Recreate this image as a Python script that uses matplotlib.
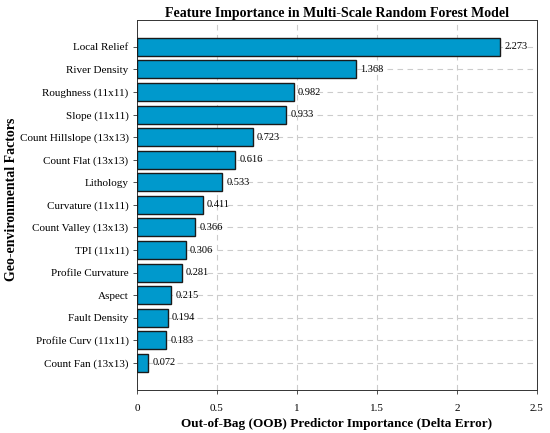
import matplotlib
matplotlib.use("Agg")
import matplotlib.pyplot as plt

features = ["Local Relief", "River Density", "Roughness (11x11)", "Slope (11x11)",
            "Count Hillslope (13x13)", "Count Flat (13x13)", "Lithology",
            "Curvature (11x11)", "Count Valley (13x13)", "TPI (11x11)",
            "Profile Curvature", "Aspect", "Fault Density", "Profile Curv (11x11)",
            "Count Fan (13x13)"]
importance = [2.273, 1.368, 0.982, 0.933, 0.723, 0.616, 0.533, 0.411, 0.366,
              0.306, 0.281, 0.215, 0.194, 0.183, 0.072]
xticks = [0, 0.5, 1, 1.5, 2, 2.5]
xtick_labels = ["0", "0.5", "1", "1.5", "2", "2.5"]

plt.rcParams['font.family'] = ['Liberation Serif', 'DejaVu Serif']

fig = plt.figure(figsize=(5.5, 4.33), dpi=100)
ax = fig.add_axes([0.249, 0.0993, 0.727, 0.855])

n = len(features)
ypos = list(range(n, 0, -1))
ax.barh(ypos, importance, height=0.8, color="#0099CC", edgecolor="#1a1a1a",
        linewidth=1.0, zorder=3)
for y, v in zip(ypos, importance):
    ax.text(v + 0.025, y, f"{v:.3f}", va="center", ha="left", fontsize=7.5, zorder=4)

ax.set_yticks(ypos)
ax.set_yticklabels(features, fontsize=8)
ax.set_xticks(xticks)
ax.set_xticklabels(xtick_labels, fontsize=8)
ax.set_xlim(0, 2.5)
ax.set_ylim(-0.2, n + 1.2)
ax.grid(True, linestyle=(0, (5, 4)), color="#cccccc", linewidth=0.8, zorder=0)
ax.tick_params(direction="out", length=3, width=0.6, color="#333333", pad=3)
ax.tick_params(axis="x", pad=7)
for s in ax.spines.values():
    s.set_linewidth(0.7)
    s.set_color("#333333")

ax.set_title("Feature Importance in Multi-Scale Random Forest Model",
             fontsize=10, fontweight="bold", pad=2)
ax.set_xlabel("Out-of-Bag (OOB) Predictor Importance (Delta Error)",
              fontsize=9.5, fontweight="bold", labelpad=4)
ax.set_ylabel("Geo-environmental Factors", fontsize=10, fontweight="bold")
ax.yaxis.set_label_coords(-0.2975, 0.515)

fig.savefig("out.png", dpi=100)
